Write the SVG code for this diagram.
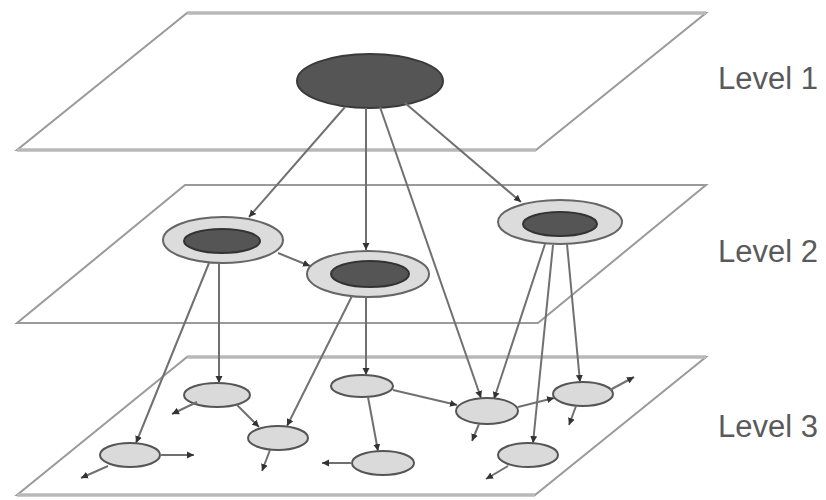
<svg xmlns="http://www.w3.org/2000/svg" width="826" height="500" viewBox="0 0 826 500">
<style>
.plane{fill:none;stroke:#9a9a9a;stroke-width:2}
.ptop{fill:none;stroke:#b8b8b8;stroke-width:3.5}
.e{fill:none;stroke:#707070;stroke-width:2;marker-end:url(#ah)}
.n3{fill:#dadada;stroke:#555;stroke-width:2}
.n2o{fill:#dcdcdc;stroke:#666;stroke-width:2}
.n2i{fill:#555;stroke:#333;stroke-width:2}
.n1{fill:#555;stroke:#3a3a3a;stroke-width:2}
.lbl{font-family:"Liberation Sans",Arial,sans-serif;font-size:31px;fill:#5a5a5a}
</style>
<defs>
<marker id="ah" markerUnits="userSpaceOnUse" markerWidth="8" markerHeight="8" refX="7" refY="4" orient="auto">
<path d="M0,0.5 L7,4 L0,7.5 Z" fill="#333"/>
</marker>
</defs>
<g id="planes">
<polygon class="plane" points="187,13 706,13 536,150 17,150"/>
<line class="ptop" x1="187" y1="13" x2="706" y2="13"/>
<line class="ptop" x1="17" y1="150" x2="536" y2="150"/>
<polygon class="plane" points="185,185 706,185 538,323 17,323"/>
<polygon class="plane" points="187,357 706,357 535,495 17,495"/>
<line class="ptop" x1="187" y1="357" x2="706" y2="357"/>
<line class="ptop" x1="17" y1="495" x2="535" y2="495"/>
</g>
<g id="labels">
<text class="lbl" x="718" y="89">Level 1</text>
<text class="lbl" x="718" y="262">Level 2</text>
<text class="lbl" x="718" y="437">Level 3</text>
</g>
<g id="node-L1"><ellipse class="n1" cx="370" cy="81" rx="73" ry="27"/></g>
<g id="node-A"><ellipse class="n2o" cx="223" cy="240" rx="60" ry="23"/><ellipse class="n2i" cx="222" cy="241" rx="38" ry="12"/></g>
<g id="node-B"><ellipse class="n2o" cx="368" cy="274" rx="61" ry="23"/><ellipse class="n2i" cx="370" cy="274" rx="39" ry="13"/></g>
<g id="node-C"><ellipse class="n2o" cx="560" cy="222" rx="62" ry="22"/><ellipse class="n2i" cx="560" cy="224" rx="37" ry="12"/></g>
<g id="node-n1"><ellipse class="n3" cx="217" cy="395" rx="33" ry="12"/></g>
<g id="node-n2"><ellipse class="n3" cx="278" cy="438" rx="30" ry="12"/></g>
<g id="node-n3"><ellipse class="n3" cx="130" cy="455" rx="30" ry="12"/></g>
<g id="node-n4"><ellipse class="n3" cx="362" cy="386" rx="31" ry="11"/></g>
<g id="node-n5"><ellipse class="n3" cx="383" cy="463" rx="31" ry="12"/></g>
<g id="node-n6"><ellipse class="n3" cx="487" cy="411" rx="31" ry="13"/></g>
<g id="node-n7"><ellipse class="n3" cx="583" cy="394" rx="30" ry="12"/></g>
<g id="node-n8"><ellipse class="n3" cx="528" cy="455" rx="30" ry="12"/></g>
<g id="connectors">
<line class="e" x1="345" y1="107" x2="249" y2="217"/>
<line class="e" x1="366" y1="108" x2="366" y2="250"/>
<line class="e" x1="380" y1="107" x2="481" y2="398"/>
<line class="e" x1="405" y1="103" x2="521" y2="202"/>
<line class="e" x1="278" y1="253" x2="310" y2="266"/>
<line class="e" x1="219" y1="263" x2="219" y2="383"/>
<line class="e" x1="209" y1="263" x2="136" y2="443"/>
<line class="e" x1="366" y1="297" x2="366" y2="375"/>
<line class="e" x1="352" y1="296" x2="287" y2="426"/>
<line class="e" x1="545" y1="244" x2="494" y2="399"/>
<line class="e" x1="553" y1="245" x2="533" y2="443"/>
<line class="e" x1="567" y1="244" x2="580" y2="382"/>
<line class="e" x1="237" y1="405" x2="259" y2="427"/>
<line class="e" x1="393" y1="390" x2="457" y2="405"/>
<line class="e" x1="368" y1="397" x2="378" y2="451"/>
<line class="e" x1="518" y1="407" x2="554" y2="398"/>
<line class="e" x1="197" y1="402" x2="172" y2="414"/>
<line class="e" x1="160" y1="455" x2="194" y2="455"/>
<line class="e" x1="108" y1="466" x2="81" y2="478"/>
<line class="e" x1="270" y1="450" x2="262" y2="471"/>
<line class="e" x1="352" y1="463" x2="322" y2="463"/>
<line class="e" x1="479" y1="424" x2="472" y2="441"/>
<line class="e" x1="610" y1="390" x2="634" y2="377"/>
<line class="e" x1="576" y1="406" x2="569" y2="425"/>
<line class="e" x1="508" y1="466" x2="486" y2="479"/>
</g>
</svg>
